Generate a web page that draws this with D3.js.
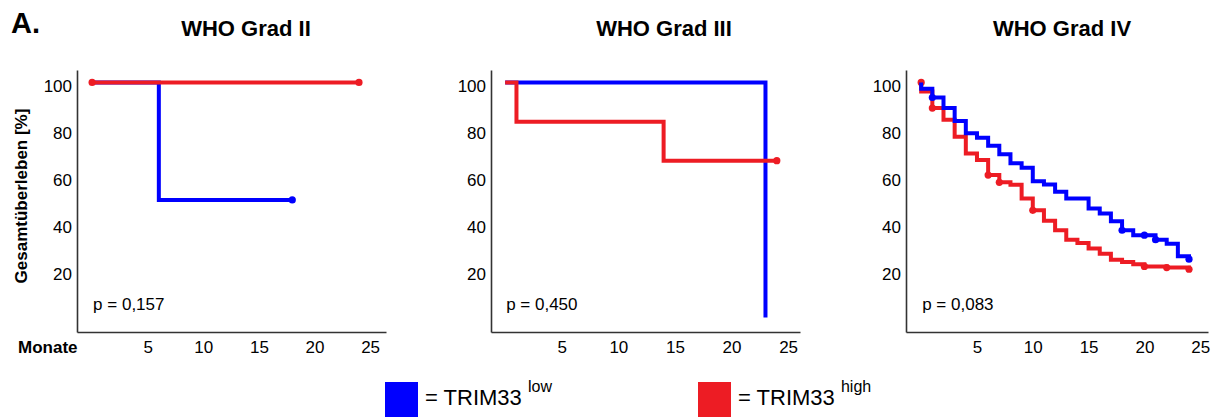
<!DOCTYPE html>
<html>
<head>
<meta charset="utf-8">
<script src="https://cdn.jsdelivr.net/npm/d3@7"></script>
<style>
  body { margin: 0; background: #fff; }
  text { font-family: "Liberation Sans", Arial, sans-serif; fill: #000; }
</style>
</head>
<body>
<script>
// Kaplan-Meier curves, values (months / % survival)
var titles = ['WHO Grad II', 'WHO Grad III', 'WHO Grad IV'];
var pValues = ['p = 0,157', 'p = 0,450', 'p = 0,083'];
var xTicks = [5, 10, 15, 20, 25];
var yTicks = [20, 40, 60, 80, 100];

var lowT = [
  [0, 6, 18],
  [0, 23],
  [0, 0, 1, 2, 3, 4, 5, 6, 7, 8, 9, 10, 11, 12, 13, 15, 16, 17, 18, 19, 21, 22, 23, 24]
];
var lowS = [
  [100, 50, 50],
  [100, 0],
  [100, 97.3, 93.6, 89.1, 83.6, 78.4, 76.5, 73.1, 69.4, 65.6, 63.7, 58.0, 56.6, 53.5, 50.6, 46.4, 44.2, 40.9, 37.1, 35.0, 33.1, 31.4, 26.0, 24.8]
];
var highT = [
  [0, 24],
  [0, 1, 14, 24],
  [0, 0, 1, 2, 3, 4, 5, 6, 7, 8, 9, 10, 11, 12, 13, 14, 15, 16, 17, 18, 19, 20, 22, 24]
];
var highS = [
  [100, 100],
  [100, 83.3, 66.7, 66.7],
  [100, 96.2, 89.1, 84.1, 76.9, 69.8, 67.0, 60.6, 57.5, 56.5, 50.6, 45.6, 41.1, 37.1, 33.1, 31.7, 29.3, 27.1, 24.6, 23.6, 22.6, 21.7, 21.2, 20.5]
];
// censored marks
var lowCens = [
  [[18, 50]],
  [],
  [[1, 93.6], [18, 37.1], [20, 35.0], [21, 33.1], [24, 24.8]]
];
var highCens = [
  [[0, 100], [24, 100]],
  [[24, 66.7]],
  [[0, 100], [1, 89.1], [6, 60.6], [7, 57.5], [10, 45.6], [20, 21.7], [22, 21.2], [24, 20.5]]
];

var blue = '#0000ff';
var red = '#ed1c24';

var width = 1221, height = 417;

// panel frames (pixel layout)
var panels = [
  { left: 77, right: 386, dom: [-1.36, 26.43], titleX: 246, redOnTop: true },
  { left: 491, right: 800, dom: [-1.25, 26.05], titleX: 664, redOnTop: true },
  { left: 906, right: 1208, dom: [-1.36, 25.7], titleX: 1062, redOnTop: false }
];

var svg = d3.select('body').append('svg')
  .attr('width', width)
  .attr('height', height);

var y = d3.scaleLinear().domain([-6.2, 105.3]).range([332, 70]);

svg.append('text')
  .attr('x', 11).attr('y', 33)
  .style('font-size', '29px').style('font-weight', 'bold')
  .text('A.');

svg.append('text')
  .attr('transform', 'translate(27,196) rotate(-90)')
  .attr('text-anchor', 'middle')
  .style('font-size', '17px').style('font-weight', 'bold')
  .text('Gesamtüberleben [%]');

svg.append('text')
  .attr('x', 18).attr('y', 353)
  .style('font-size', '17px').style('font-weight', 'bold')
  .text('Monate');

panels.forEach(function(p, i) {
  var x = d3.scaleLinear().domain(p.dom).range([p.left, p.right]);
  var g = svg.append('g');

  g.append('text')
    .attr('x', p.titleX).attr('y', 36)
    .attr('text-anchor', 'middle')
    .style('font-size', '22px').style('font-weight', 'bold')
    .text(titles[i]);

  var ya = g.append('g')
    .attr('transform', 'translate(' + p.left + ',0)')
    .call(d3.axisLeft(y).tickValues(yTicks).tickSize(0).tickSizeOuter(0).tickPadding(5));
  ya.selectAll('text').attr('dy', '0.55em');

  g.append('g')
    .attr('transform', 'translate(0,332)')
    .call(d3.axisBottom(x).tickValues(xTicks).tickSize(0).tickSizeOuter(0).tickPadding(9));

  g.selectAll('.domain').attr('stroke', '#333').attr('stroke-width', 1.6);
  g.selectAll('.tick text')
    .style('font-size', '17px')
    .style('font-family', '"Liberation Sans", Arial, sans-serif')
    .attr('fill', '#000');

  g.append('text')
    .attr('x', x(0) + 1).attr('y', 310)
    .style('font-size', '17px')
    .text(pValues[i]);

  var line = d3.line()
    .x(function(d) { return x(d[0]); })
    .y(function(d) { return y(d[1]); })
    .curve(d3.curveStepAfter);

  function drawCurve(T, S, cens, color) {
    var pts = T.map(function(t, k) { return [t, S[k]]; });
    g.append('path')
      .datum(pts)
      .attr('d', line)
      .attr('fill', 'none')
      .attr('stroke', color)
      .attr('stroke-width', 4);
    g.selectAll(null).data(cens).enter()
      .append('circle')
      .attr('cx', function(d) { return x(d[0]); })
      .attr('cy', function(d) { return y(d[1]); })
      .attr('r', 3.6)
      .attr('fill', color);
  }

  if (p.redOnTop) {
    drawCurve(lowT[i], lowS[i], lowCens[i], blue);
    drawCurve(highT[i], highS[i], highCens[i], red);
  } else {
    drawCurve(highT[i], highS[i], highCens[i], red);
    drawCurve(lowT[i], lowS[i], lowCens[i], blue);
  }
});

// legend
var legend = [
  { x: 385, color: blue, sup: 'low' },
  { x: 698, color: red, sup: 'high' }
];
legend.forEach(function(l) {
  svg.append('rect')
    .attr('x', l.x).attr('y', 382)
    .attr('width', 33).attr('height', 36)
    .attr('fill', l.color);
  var t = svg.append('text')
    .attr('x', l.x + 40).attr('y', 405)
    .style('font-size', '22px');
  t.append('tspan').text('= TRIM33 ');
  t.append('tspan')
    .attr('dy', -13)
    .style('font-size', '16px')
    .text(l.sup);
});
</script>
</body>
</html>
